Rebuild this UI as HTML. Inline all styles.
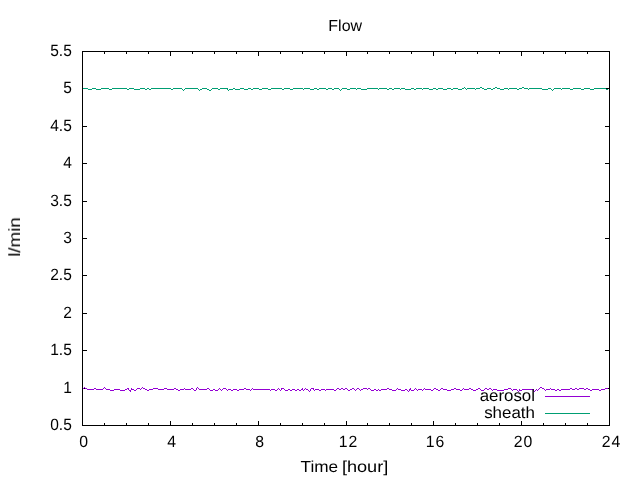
<!DOCTYPE html>
<html><head><meta charset="utf-8"><title>Flow</title>
<style>
html,body{margin:0;padding:0;background:#fff;}
body{width:640px;height:480px;overflow:hidden;}
svg{display:block;}
svg text{font-family:"Liberation Sans",sans-serif;font-size:15.5px;fill:#000;text-rendering:geometricPrecision;}
</style></head><body>
<svg width="640" height="480" viewBox="0 0 640 480">
<rect x="0" y="0" width="640" height="480" fill="#ffffff"/>
<g shape-rendering="crispEdges"><rect x="545" y="396" width="45" height="1" fill="#9400d3"/><rect x="545" y="413" width="45" height="1" fill="#009e73"/><rect x="82" y="51" width="528" height="1" fill="#000"/><rect x="82" y="425" width="528" height="1" fill="#000"/><rect x="82" y="51" width="1" height="375" fill="#000"/><rect x="609" y="51" width="1" height="375" fill="#000"/><rect x="82" y="421" width="1" height="4" fill="#000"/><rect x="82" y="52" width="1" height="4" fill="#000"/><rect x="104" y="423" width="1" height="2" fill="#000"/><rect x="104" y="52" width="1" height="2" fill="#000"/><rect x="126" y="423" width="1" height="2" fill="#000"/><rect x="126" y="52" width="1" height="2" fill="#000"/><rect x="148" y="423" width="1" height="2" fill="#000"/><rect x="148" y="52" width="1" height="2" fill="#000"/><rect x="170" y="421" width="1" height="4" fill="#000"/><rect x="170" y="52" width="1" height="4" fill="#000"/><rect x="192" y="423" width="1" height="2" fill="#000"/><rect x="192" y="52" width="1" height="2" fill="#000"/><rect x="214" y="423" width="1" height="2" fill="#000"/><rect x="214" y="52" width="1" height="2" fill="#000"/><rect x="236" y="423" width="1" height="2" fill="#000"/><rect x="236" y="52" width="1" height="2" fill="#000"/><rect x="258" y="421" width="1" height="4" fill="#000"/><rect x="258" y="52" width="1" height="4" fill="#000"/><rect x="280" y="423" width="1" height="2" fill="#000"/><rect x="280" y="52" width="1" height="2" fill="#000"/><rect x="302" y="423" width="1" height="2" fill="#000"/><rect x="302" y="52" width="1" height="2" fill="#000"/><rect x="324" y="423" width="1" height="2" fill="#000"/><rect x="324" y="52" width="1" height="2" fill="#000"/><rect x="346" y="421" width="1" height="4" fill="#000"/><rect x="346" y="52" width="1" height="4" fill="#000"/><rect x="367" y="423" width="1" height="2" fill="#000"/><rect x="367" y="52" width="1" height="2" fill="#000"/><rect x="389" y="423" width="1" height="2" fill="#000"/><rect x="389" y="52" width="1" height="2" fill="#000"/><rect x="411" y="423" width="1" height="2" fill="#000"/><rect x="411" y="52" width="1" height="2" fill="#000"/><rect x="433" y="421" width="1" height="4" fill="#000"/><rect x="433" y="52" width="1" height="4" fill="#000"/><rect x="455" y="423" width="1" height="2" fill="#000"/><rect x="455" y="52" width="1" height="2" fill="#000"/><rect x="477" y="423" width="1" height="2" fill="#000"/><rect x="477" y="52" width="1" height="2" fill="#000"/><rect x="499" y="423" width="1" height="2" fill="#000"/><rect x="499" y="52" width="1" height="2" fill="#000"/><rect x="521" y="421" width="1" height="4" fill="#000"/><rect x="521" y="52" width="1" height="4" fill="#000"/><rect x="543" y="423" width="1" height="2" fill="#000"/><rect x="543" y="52" width="1" height="2" fill="#000"/><rect x="565" y="423" width="1" height="2" fill="#000"/><rect x="565" y="52" width="1" height="2" fill="#000"/><rect x="587" y="423" width="1" height="2" fill="#000"/><rect x="587" y="52" width="1" height="2" fill="#000"/><rect x="609" y="421" width="1" height="4" fill="#000"/><rect x="609" y="52" width="1" height="4" fill="#000"/><rect x="83" y="425" width="4" height="1" fill="#000"/><rect x="605" y="425" width="4" height="1" fill="#000"/><rect x="83" y="388" width="4" height="1" fill="#000"/><rect x="605" y="388" width="4" height="1" fill="#000"/><rect x="83" y="350" width="4" height="1" fill="#000"/><rect x="605" y="350" width="4" height="1" fill="#000"/><rect x="83" y="313" width="4" height="1" fill="#000"/><rect x="605" y="313" width="4" height="1" fill="#000"/><rect x="83" y="275" width="4" height="1" fill="#000"/><rect x="605" y="275" width="4" height="1" fill="#000"/><rect x="83" y="238" width="4" height="1" fill="#000"/><rect x="605" y="238" width="4" height="1" fill="#000"/><rect x="83" y="201" width="4" height="1" fill="#000"/><rect x="605" y="201" width="4" height="1" fill="#000"/><rect x="83" y="163" width="4" height="1" fill="#000"/><rect x="605" y="163" width="4" height="1" fill="#000"/><rect x="83" y="126" width="4" height="1" fill="#000"/><rect x="605" y="126" width="4" height="1" fill="#000"/><rect x="83" y="88" width="4" height="1" fill="#000"/><rect x="605" y="88" width="4" height="1" fill="#000"/><rect x="83" y="51" width="4" height="1" fill="#000"/><rect x="605" y="51" width="4" height="1" fill="#000"/><rect x="83" y="388" width="1" height="1" fill="#9400d3"/><rect x="84" y="387" width="1" height="1" fill="#9400d3"/><rect x="85" y="388" width="2" height="1" fill="#9400d3"/><rect x="87" y="389" width="7" height="1" fill="#9400d3"/><rect x="94" y="388" width="2" height="1" fill="#9400d3"/><rect x="96" y="389" width="7" height="1" fill="#9400d3"/><rect x="103" y="388" width="1" height="1" fill="#9400d3"/><rect x="104" y="387" width="1" height="1" fill="#9400d3"/><rect x="105" y="388" width="1" height="1" fill="#9400d3"/><rect x="106" y="389" width="4" height="1" fill="#9400d3"/><rect x="110" y="390" width="4" height="1" fill="#9400d3"/><rect x="114" y="389" width="6" height="1" fill="#9400d3"/><rect x="120" y="390" width="5" height="1" fill="#9400d3"/><rect x="125" y="389" width="2" height="1" fill="#9400d3"/><rect x="127" y="388" width="2" height="1" fill="#9400d3"/><rect x="129" y="390" width="1" height="1" fill="#9400d3"/><rect x="130" y="391" width="1" height="1" fill="#9400d3"/><rect x="131" y="388" width="1" height="1" fill="#9400d3"/><rect x="132" y="389" width="2" height="1" fill="#9400d3"/><rect x="134" y="390" width="2" height="1" fill="#9400d3"/><rect x="136" y="389" width="1" height="1" fill="#9400d3"/><rect x="137" y="388" width="3" height="1" fill="#9400d3"/><rect x="140" y="389" width="1" height="1" fill="#9400d3"/><rect x="141" y="388" width="1" height="1" fill="#9400d3"/><rect x="142" y="387" width="1" height="1" fill="#9400d3"/><rect x="143" y="388" width="2" height="1" fill="#9400d3"/><rect x="145" y="389" width="2" height="1" fill="#9400d3"/><rect x="147" y="390" width="2" height="1" fill="#9400d3"/><rect x="149" y="389" width="4" height="1" fill="#9400d3"/><rect x="153" y="388" width="5" height="1" fill="#9400d3"/><rect x="158" y="389" width="6" height="1" fill="#9400d3"/><rect x="164" y="388" width="3" height="1" fill="#9400d3"/><rect x="167" y="389" width="7" height="1" fill="#9400d3"/><rect x="174" y="388" width="2" height="1" fill="#9400d3"/><rect x="176" y="389" width="2" height="1" fill="#9400d3"/><rect x="178" y="390" width="2" height="1" fill="#9400d3"/><rect x="180" y="389" width="4" height="1" fill="#9400d3"/><rect x="184" y="388" width="1" height="1" fill="#9400d3"/><rect x="185" y="389" width="6" height="1" fill="#9400d3"/><rect x="191" y="388" width="2" height="1" fill="#9400d3"/><rect x="193" y="389" width="1" height="1" fill="#9400d3"/><rect x="194" y="390" width="2" height="1" fill="#9400d3"/><rect x="196" y="388" width="1" height="1" fill="#9400d3"/><rect x="197" y="387" width="1" height="1" fill="#9400d3"/><rect x="198" y="388" width="1" height="1" fill="#9400d3"/><rect x="199" y="389" width="8" height="1" fill="#9400d3"/><rect x="207" y="388" width="2" height="1" fill="#9400d3"/><rect x="209" y="389" width="1" height="1" fill="#9400d3"/><rect x="210" y="390" width="3" height="1" fill="#9400d3"/><rect x="213" y="389" width="2" height="1" fill="#9400d3"/><rect x="215" y="390" width="3" height="1" fill="#9400d3"/><rect x="218" y="389" width="1" height="1" fill="#9400d3"/><rect x="219" y="388" width="1" height="1" fill="#9400d3"/><rect x="220" y="389" width="1" height="1" fill="#9400d3"/><rect x="221" y="390" width="1" height="1" fill="#9400d3"/><rect x="222" y="389" width="1" height="1" fill="#9400d3"/><rect x="223" y="388" width="3" height="1" fill="#9400d3"/><rect x="226" y="389" width="1" height="1" fill="#9400d3"/><rect x="227" y="390" width="1" height="1" fill="#9400d3"/><rect x="228" y="389" width="3" height="1" fill="#9400d3"/><rect x="231" y="390" width="2" height="1" fill="#9400d3"/><rect x="233" y="389" width="4" height="1" fill="#9400d3"/><rect x="237" y="390" width="2" height="1" fill="#9400d3"/><rect x="239" y="389" width="5" height="1" fill="#9400d3"/><rect x="244" y="388" width="2" height="1" fill="#9400d3"/><rect x="246" y="389" width="4" height="1" fill="#9400d3"/><rect x="250" y="390" width="1" height="1" fill="#9400d3"/><rect x="251" y="389" width="1" height="1" fill="#9400d3"/><rect x="252" y="388" width="1" height="1" fill="#9400d3"/><rect x="253" y="389" width="17" height="1" fill="#9400d3"/><rect x="270" y="390" width="1" height="1" fill="#9400d3"/><rect x="271" y="389" width="4" height="1" fill="#9400d3"/><rect x="275" y="390" width="2" height="1" fill="#9400d3"/><rect x="277" y="389" width="1" height="1" fill="#9400d3"/><rect x="278" y="388" width="1" height="1" fill="#9400d3"/><rect x="279" y="389" width="1" height="1" fill="#9400d3"/><rect x="280" y="390" width="1" height="1" fill="#9400d3"/><rect x="281" y="388" width="3" height="1" fill="#9400d3"/><rect x="284" y="389" width="1" height="1" fill="#9400d3"/><rect x="285" y="390" width="3" height="1" fill="#9400d3"/><rect x="288" y="389" width="2" height="1" fill="#9400d3"/><rect x="290" y="390" width="2" height="1" fill="#9400d3"/><rect x="292" y="389" width="3" height="1" fill="#9400d3"/><rect x="295" y="390" width="2" height="1" fill="#9400d3"/><rect x="297" y="389" width="2" height="1" fill="#9400d3"/><rect x="299" y="390" width="2" height="1" fill="#9400d3"/><rect x="301" y="389" width="1" height="1" fill="#9400d3"/><rect x="302" y="388" width="1" height="1" fill="#9400d3"/><rect x="303" y="390" width="1" height="1" fill="#9400d3"/><rect x="304" y="389" width="1" height="1" fill="#9400d3"/><rect x="305" y="388" width="1" height="1" fill="#9400d3"/><rect x="306" y="389" width="2" height="1" fill="#9400d3"/><rect x="308" y="390" width="1" height="1" fill="#9400d3"/><rect x="309" y="391" width="1" height="1" fill="#9400d3"/><rect x="310" y="389" width="1" height="1" fill="#9400d3"/><rect x="311" y="388" width="3" height="1" fill="#9400d3"/><rect x="314" y="390" width="1" height="1" fill="#9400d3"/><rect x="315" y="389" width="4" height="1" fill="#9400d3"/><rect x="319" y="390" width="2" height="1" fill="#9400d3"/><rect x="321" y="389" width="4" height="1" fill="#9400d3"/><rect x="325" y="390" width="1" height="1" fill="#9400d3"/><rect x="326" y="389" width="8" height="1" fill="#9400d3"/><rect x="334" y="390" width="2" height="1" fill="#9400d3"/><rect x="336" y="389" width="1" height="1" fill="#9400d3"/><rect x="337" y="388" width="2" height="1" fill="#9400d3"/><rect x="339" y="389" width="2" height="1" fill="#9400d3"/><rect x="341" y="388" width="2" height="1" fill="#9400d3"/><rect x="343" y="389" width="2" height="1" fill="#9400d3"/><rect x="345" y="388" width="2" height="1" fill="#9400d3"/><rect x="347" y="389" width="1" height="1" fill="#9400d3"/><rect x="348" y="390" width="2" height="1" fill="#9400d3"/><rect x="350" y="389" width="2" height="1" fill="#9400d3"/><rect x="352" y="388" width="2" height="1" fill="#9400d3"/><rect x="354" y="389" width="1" height="1" fill="#9400d3"/><rect x="355" y="390" width="1" height="1" fill="#9400d3"/><rect x="356" y="389" width="1" height="1" fill="#9400d3"/><rect x="357" y="388" width="2" height="1" fill="#9400d3"/><rect x="359" y="389" width="1" height="1" fill="#9400d3"/><rect x="360" y="390" width="1" height="1" fill="#9400d3"/><rect x="361" y="389" width="2" height="1" fill="#9400d3"/><rect x="363" y="388" width="4" height="1" fill="#9400d3"/><rect x="367" y="389" width="1" height="1" fill="#9400d3"/><rect x="368" y="388" width="2" height="1" fill="#9400d3"/><rect x="370" y="389" width="1" height="1" fill="#9400d3"/><rect x="371" y="390" width="3" height="1" fill="#9400d3"/><rect x="374" y="389" width="2" height="1" fill="#9400d3"/><rect x="376" y="390" width="2" height="1" fill="#9400d3"/><rect x="378" y="389" width="1" height="1" fill="#9400d3"/><rect x="379" y="390" width="2" height="1" fill="#9400d3"/><rect x="381" y="389" width="6" height="1" fill="#9400d3"/><rect x="387" y="388" width="2" height="1" fill="#9400d3"/><rect x="389" y="389" width="3" height="1" fill="#9400d3"/><rect x="392" y="390" width="4" height="1" fill="#9400d3"/><rect x="396" y="389" width="1" height="1" fill="#9400d3"/><rect x="397" y="388" width="1" height="1" fill="#9400d3"/><rect x="398" y="389" width="3" height="1" fill="#9400d3"/><rect x="401" y="390" width="4" height="1" fill="#9400d3"/><rect x="405" y="389" width="2" height="1" fill="#9400d3"/><rect x="407" y="390" width="1" height="1" fill="#9400d3"/><rect x="408" y="391" width="1" height="1" fill="#9400d3"/><rect x="409" y="389" width="1" height="1" fill="#9400d3"/><rect x="410" y="388" width="1" height="1" fill="#9400d3"/><rect x="411" y="390" width="3" height="1" fill="#9400d3"/><rect x="414" y="389" width="1" height="1" fill="#9400d3"/><rect x="415" y="388" width="1" height="1" fill="#9400d3"/><rect x="416" y="389" width="1" height="1" fill="#9400d3"/><rect x="417" y="390" width="1" height="1" fill="#9400d3"/><rect x="418" y="389" width="4" height="1" fill="#9400d3"/><rect x="422" y="390" width="1" height="1" fill="#9400d3"/><rect x="423" y="389" width="1" height="1" fill="#9400d3"/><rect x="424" y="388" width="1" height="1" fill="#9400d3"/><rect x="425" y="389" width="6" height="1" fill="#9400d3"/><rect x="431" y="390" width="2" height="1" fill="#9400d3"/><rect x="433" y="389" width="1" height="1" fill="#9400d3"/><rect x="434" y="388" width="2" height="1" fill="#9400d3"/><rect x="436" y="389" width="2" height="1" fill="#9400d3"/><rect x="438" y="390" width="2" height="1" fill="#9400d3"/><rect x="440" y="389" width="1" height="1" fill="#9400d3"/><rect x="441" y="388" width="2" height="1" fill="#9400d3"/><rect x="443" y="389" width="4" height="1" fill="#9400d3"/><rect x="447" y="390" width="4" height="1" fill="#9400d3"/><rect x="451" y="389" width="3" height="1" fill="#9400d3"/><rect x="454" y="388" width="2" height="1" fill="#9400d3"/><rect x="456" y="389" width="4" height="1" fill="#9400d3"/><rect x="460" y="390" width="2" height="1" fill="#9400d3"/><rect x="462" y="389" width="1" height="1" fill="#9400d3"/><rect x="463" y="388" width="1" height="1" fill="#9400d3"/><rect x="464" y="389" width="5" height="1" fill="#9400d3"/><rect x="469" y="388" width="2" height="1" fill="#9400d3"/><rect x="471" y="389" width="2" height="1" fill="#9400d3"/><rect x="473" y="390" width="3" height="1" fill="#9400d3"/><rect x="476" y="389" width="2" height="1" fill="#9400d3"/><rect x="478" y="388" width="2" height="1" fill="#9400d3"/><rect x="480" y="389" width="1" height="1" fill="#9400d3"/><rect x="481" y="390" width="3" height="1" fill="#9400d3"/><rect x="484" y="389" width="1" height="1" fill="#9400d3"/><rect x="485" y="388" width="2" height="1" fill="#9400d3"/><rect x="487" y="389" width="2" height="1" fill="#9400d3"/><rect x="489" y="388" width="2" height="1" fill="#9400d3"/><rect x="491" y="389" width="1" height="1" fill="#9400d3"/><rect x="492" y="390" width="1" height="1" fill="#9400d3"/><rect x="493" y="389" width="4" height="1" fill="#9400d3"/><rect x="497" y="390" width="7" height="1" fill="#9400d3"/><rect x="504" y="389" width="4" height="1" fill="#9400d3"/><rect x="508" y="388" width="3" height="1" fill="#9400d3"/><rect x="511" y="389" width="1" height="1" fill="#9400d3"/><rect x="512" y="390" width="1" height="1" fill="#9400d3"/><rect x="513" y="389" width="4" height="1" fill="#9400d3"/><rect x="517" y="390" width="1" height="1" fill="#9400d3"/><rect x="518" y="391" width="1" height="1" fill="#9400d3"/><rect x="519" y="389" width="1" height="1" fill="#9400d3"/><rect x="520" y="390" width="2" height="1" fill="#9400d3"/><rect x="522" y="389" width="12" height="1" fill="#9400d3"/><rect x="534" y="391" width="1" height="1" fill="#9400d3"/><rect x="535" y="390" width="1" height="1" fill="#9400d3"/><rect x="536" y="389" width="1" height="1" fill="#9400d3"/><rect x="537" y="390" width="1" height="1" fill="#9400d3"/><rect x="538" y="389" width="1" height="1" fill="#9400d3"/><rect x="539" y="388" width="1" height="1" fill="#9400d3"/><rect x="540" y="387" width="2" height="1" fill="#9400d3"/><rect x="542" y="388" width="2" height="1" fill="#9400d3"/><rect x="544" y="389" width="1" height="1" fill="#9400d3"/><rect x="545" y="390" width="1" height="1" fill="#9400d3"/><rect x="546" y="389" width="4" height="1" fill="#9400d3"/><rect x="550" y="388" width="1" height="1" fill="#9400d3"/><rect x="551" y="389" width="4" height="1" fill="#9400d3"/><rect x="555" y="390" width="2" height="1" fill="#9400d3"/><rect x="557" y="389" width="2" height="1" fill="#9400d3"/><rect x="559" y="390" width="2" height="1" fill="#9400d3"/><rect x="561" y="389" width="9" height="1" fill="#9400d3"/><rect x="570" y="388" width="2" height="1" fill="#9400d3"/><rect x="572" y="389" width="3" height="1" fill="#9400d3"/><rect x="575" y="388" width="2" height="1" fill="#9400d3"/><rect x="577" y="389" width="2" height="1" fill="#9400d3"/><rect x="579" y="388" width="5" height="1" fill="#9400d3"/><rect x="584" y="389" width="2" height="1" fill="#9400d3"/><rect x="586" y="388" width="2" height="1" fill="#9400d3"/><rect x="588" y="389" width="2" height="1" fill="#9400d3"/><rect x="590" y="390" width="2" height="1" fill="#9400d3"/><rect x="592" y="389" width="7" height="1" fill="#9400d3"/><rect x="599" y="390" width="2" height="1" fill="#9400d3"/><rect x="601" y="389" width="4" height="1" fill="#9400d3"/><rect x="605" y="388" width="3" height="1" fill="#9400d3"/><rect x="128" y="388" width="1" height="2" fill="#9400d3"/><rect x="129" y="390" width="1" height="1" fill="#9400d3"/><rect x="130" y="390" width="1" height="2" fill="#9400d3"/><rect x="131" y="388" width="1" height="2" fill="#9400d3"/><rect x="195" y="390" width="1" height="1" fill="#9400d3"/><rect x="196" y="388" width="1" height="2" fill="#9400d3"/><rect x="280" y="390" width="1" height="1" fill="#9400d3"/><rect x="281" y="388" width="1" height="2" fill="#9400d3"/><rect x="302" y="388" width="1" height="2" fill="#9400d3"/><rect x="303" y="390" width="1" height="1" fill="#9400d3"/><rect x="309" y="391" width="1" height="1" fill="#9400d3"/><rect x="310" y="389" width="1" height="2" fill="#9400d3"/><rect x="313" y="388" width="1" height="2" fill="#9400d3"/><rect x="314" y="390" width="1" height="1" fill="#9400d3"/><rect x="408" y="391" width="1" height="1" fill="#9400d3"/><rect x="409" y="389" width="1" height="2" fill="#9400d3"/><rect x="410" y="388" width="1" height="2" fill="#9400d3"/><rect x="411" y="390" width="1" height="1" fill="#9400d3"/><rect x="518" y="391" width="1" height="1" fill="#9400d3"/><rect x="519" y="389" width="1" height="2" fill="#9400d3"/><rect x="533" y="389" width="1" height="2" fill="#9400d3"/><rect x="534" y="391" width="1" height="1" fill="#9400d3"/><rect x="83" y="88" width="5" height="1" fill="#009e73"/><rect x="88" y="89" width="4" height="1" fill="#009e73"/><rect x="92" y="88" width="4" height="1" fill="#009e73"/><rect x="96" y="89" width="5" height="1" fill="#009e73"/><rect x="101" y="88" width="8" height="1" fill="#009e73"/><rect x="109" y="89" width="3" height="1" fill="#009e73"/><rect x="112" y="88" width="15" height="1" fill="#009e73"/><rect x="127" y="89" width="2" height="1" fill="#009e73"/><rect x="129" y="88" width="5" height="1" fill="#009e73"/><rect x="134" y="89" width="6" height="1" fill="#009e73"/><rect x="140" y="88" width="5" height="1" fill="#009e73"/><rect x="145" y="89" width="2" height="1" fill="#009e73"/><rect x="147" y="88" width="2" height="1" fill="#009e73"/><rect x="149" y="89" width="2" height="1" fill="#009e73"/><rect x="151" y="88" width="20" height="1" fill="#009e73"/><rect x="171" y="89" width="2" height="1" fill="#009e73"/><rect x="173" y="88" width="9" height="1" fill="#009e73"/><rect x="182" y="89" width="1" height="1" fill="#009e73"/><rect x="183" y="90" width="1" height="1" fill="#009e73"/><rect x="184" y="89" width="1" height="1" fill="#009e73"/><rect x="185" y="88" width="13" height="1" fill="#009e73"/><rect x="198" y="89" width="1" height="1" fill="#009e73"/><rect x="199" y="90" width="1" height="1" fill="#009e73"/><rect x="200" y="89" width="2" height="1" fill="#009e73"/><rect x="202" y="88" width="5" height="1" fill="#009e73"/><rect x="207" y="89" width="2" height="1" fill="#009e73"/><rect x="209" y="90" width="2" height="1" fill="#009e73"/><rect x="211" y="89" width="1" height="1" fill="#009e73"/><rect x="212" y="88" width="6" height="1" fill="#009e73"/><rect x="218" y="89" width="2" height="1" fill="#009e73"/><rect x="220" y="88" width="8" height="1" fill="#009e73"/><rect x="228" y="90" width="1" height="1" fill="#009e73"/><rect x="229" y="89" width="4" height="1" fill="#009e73"/><rect x="233" y="88" width="2" height="1" fill="#009e73"/><rect x="235" y="89" width="5" height="1" fill="#009e73"/><rect x="240" y="88" width="4" height="1" fill="#009e73"/><rect x="244" y="89" width="4" height="1" fill="#009e73"/><rect x="248" y="88" width="3" height="1" fill="#009e73"/><rect x="251" y="89" width="2" height="1" fill="#009e73"/><rect x="253" y="88" width="6" height="1" fill="#009e73"/><rect x="259" y="89" width="3" height="1" fill="#009e73"/><rect x="262" y="88" width="6" height="1" fill="#009e73"/><rect x="268" y="89" width="3" height="1" fill="#009e73"/><rect x="271" y="88" width="11" height="1" fill="#009e73"/><rect x="282" y="89" width="2" height="1" fill="#009e73"/><rect x="284" y="88" width="6" height="1" fill="#009e73"/><rect x="290" y="89" width="3" height="1" fill="#009e73"/><rect x="293" y="88" width="10" height="1" fill="#009e73"/><rect x="303" y="89" width="1" height="1" fill="#009e73"/><rect x="304" y="88" width="6" height="1" fill="#009e73"/><rect x="310" y="89" width="4" height="1" fill="#009e73"/><rect x="314" y="88" width="3" height="1" fill="#009e73"/><rect x="317" y="89" width="2" height="1" fill="#009e73"/><rect x="319" y="88" width="7" height="1" fill="#009e73"/><rect x="326" y="89" width="2" height="1" fill="#009e73"/><rect x="328" y="88" width="4" height="1" fill="#009e73"/><rect x="332" y="89" width="2" height="1" fill="#009e73"/><rect x="334" y="88" width="5" height="1" fill="#009e73"/><rect x="339" y="89" width="1" height="1" fill="#009e73"/><rect x="340" y="90" width="1" height="1" fill="#009e73"/><rect x="341" y="89" width="1" height="1" fill="#009e73"/><rect x="342" y="88" width="5" height="1" fill="#009e73"/><rect x="347" y="89" width="3" height="1" fill="#009e73"/><rect x="350" y="88" width="6" height="1" fill="#009e73"/><rect x="356" y="89" width="1" height="1" fill="#009e73"/><rect x="357" y="88" width="4" height="1" fill="#009e73"/><rect x="361" y="89" width="6" height="1" fill="#009e73"/><rect x="367" y="88" width="11" height="1" fill="#009e73"/><rect x="378" y="89" width="1" height="1" fill="#009e73"/><rect x="379" y="88" width="8" height="1" fill="#009e73"/><rect x="387" y="89" width="2" height="1" fill="#009e73"/><rect x="389" y="88" width="3" height="1" fill="#009e73"/><rect x="392" y="89" width="2" height="1" fill="#009e73"/><rect x="394" y="88" width="6" height="1" fill="#009e73"/><rect x="400" y="89" width="1" height="1" fill="#009e73"/><rect x="401" y="88" width="4" height="1" fill="#009e73"/><rect x="405" y="89" width="6" height="1" fill="#009e73"/><rect x="411" y="88" width="3" height="1" fill="#009e73"/><rect x="414" y="89" width="2" height="1" fill="#009e73"/><rect x="416" y="88" width="6" height="1" fill="#009e73"/><rect x="422" y="89" width="1" height="1" fill="#009e73"/><rect x="423" y="88" width="6" height="1" fill="#009e73"/><rect x="429" y="89" width="4" height="1" fill="#009e73"/><rect x="433" y="88" width="3" height="1" fill="#009e73"/><rect x="436" y="89" width="2" height="1" fill="#009e73"/><rect x="438" y="88" width="5" height="1" fill="#009e73"/><rect x="443" y="89" width="4" height="1" fill="#009e73"/><rect x="447" y="88" width="4" height="1" fill="#009e73"/><rect x="451" y="89" width="2" height="1" fill="#009e73"/><rect x="453" y="88" width="5" height="1" fill="#009e73"/><rect x="458" y="89" width="4" height="1" fill="#009e73"/><rect x="462" y="88" width="2" height="1" fill="#009e73"/><rect x="464" y="87" width="1" height="1" fill="#009e73"/><rect x="465" y="88" width="1" height="1" fill="#009e73"/><rect x="466" y="89" width="1" height="1" fill="#009e73"/><rect x="467" y="88" width="8" height="1" fill="#009e73"/><rect x="475" y="89" width="1" height="1" fill="#009e73"/><rect x="476" y="88" width="4" height="1" fill="#009e73"/><rect x="480" y="87" width="2" height="1" fill="#009e73"/><rect x="482" y="88" width="2" height="1" fill="#009e73"/><rect x="484" y="89" width="3" height="1" fill="#009e73"/><rect x="487" y="88" width="4" height="1" fill="#009e73"/><rect x="491" y="89" width="2" height="1" fill="#009e73"/><rect x="493" y="88" width="2" height="1" fill="#009e73"/><rect x="495" y="87" width="2" height="1" fill="#009e73"/><rect x="497" y="88" width="3" height="1" fill="#009e73"/><rect x="500" y="89" width="4" height="1" fill="#009e73"/><rect x="504" y="88" width="4" height="1" fill="#009e73"/><rect x="508" y="89" width="1" height="1" fill="#009e73"/><rect x="509" y="88" width="8" height="1" fill="#009e73"/><rect x="517" y="89" width="2" height="1" fill="#009e73"/><rect x="519" y="88" width="3" height="1" fill="#009e73"/><rect x="522" y="87" width="2" height="1" fill="#009e73"/><rect x="524" y="88" width="4" height="1" fill="#009e73"/><rect x="528" y="89" width="1" height="1" fill="#009e73"/><rect x="529" y="88" width="13" height="1" fill="#009e73"/><rect x="542" y="89" width="6" height="1" fill="#009e73"/><rect x="548" y="88" width="3" height="1" fill="#009e73"/><rect x="551" y="89" width="1" height="1" fill="#009e73"/><rect x="552" y="90" width="1" height="1" fill="#009e73"/><rect x="553" y="89" width="1" height="1" fill="#009e73"/><rect x="554" y="88" width="7" height="1" fill="#009e73"/><rect x="561" y="89" width="1" height="1" fill="#009e73"/><rect x="562" y="88" width="8" height="1" fill="#009e73"/><rect x="570" y="89" width="3" height="1" fill="#009e73"/><rect x="573" y="88" width="8" height="1" fill="#009e73"/><rect x="581" y="89" width="3" height="1" fill="#009e73"/><rect x="584" y="88" width="6" height="1" fill="#009e73"/><rect x="590" y="89" width="4" height="1" fill="#009e73"/><rect x="594" y="88" width="12" height="1" fill="#009e73"/><rect x="606" y="89" width="2" height="1" fill="#009e73"/><rect x="227" y="88" width="1" height="2" fill="#009e73"/><rect x="228" y="90" width="1" height="1" fill="#009e73"/></g>
<g opacity="0.999"><text transform="translate(345.2,31) scale(0.998,1)" text-anchor="middle" style="font-size:16.0px;">Flow</text><text transform="translate(71.8,430) scale(0.953,1)" text-anchor="end" style="font-size:16.3px;">0.5</text><text transform="translate(71.8,393) scale(0.953,1)" text-anchor="end" style="font-size:16.3px;">1</text><text transform="translate(71.8,355) scale(0.953,1)" text-anchor="end" style="font-size:16.3px;">1.5</text><text transform="translate(71.8,318) scale(0.953,1)" text-anchor="end" style="font-size:16.3px;">2</text><text transform="translate(71.8,280) scale(0.953,1)" text-anchor="end" style="font-size:16.3px;">2.5</text><text transform="translate(71.8,243) scale(0.953,1)" text-anchor="end" style="font-size:16.3px;">3</text><text transform="translate(71.8,206) scale(0.953,1)" text-anchor="end" style="font-size:16.3px;">3.5</text><text transform="translate(71.8,168) scale(0.953,1)" text-anchor="end" style="font-size:16.3px;">4</text><text transform="translate(71.8,131) scale(0.953,1)" text-anchor="end" style="font-size:16.3px;">4.5</text><text transform="translate(71.8,93) scale(0.953,1)" text-anchor="end" style="font-size:16.3px;">5</text><text transform="translate(71.8,56) scale(0.953,1)" text-anchor="end" style="font-size:16.3px;">5.5</text><text transform="translate(83.6,447) scale(0.97,1)" text-anchor="middle" style="font-size:16.3px;">0</text><text transform="translate(171.6,447) scale(0.97,1)" text-anchor="middle" style="font-size:16.3px;">4</text><text transform="translate(259.6,447) scale(0.97,1)" text-anchor="middle" style="font-size:16.3px;">8</text><text transform="translate(348.4,447) scale(0.97,1)" text-anchor="middle" style="font-size:16.3px;letter-spacing:0.8px;">12</text><text transform="translate(435.4,447) scale(0.97,1)" text-anchor="middle" style="font-size:16.3px;letter-spacing:0.8px;">16</text><text transform="translate(523.4,447) scale(0.97,1)" text-anchor="middle" style="font-size:16.3px;letter-spacing:0.8px;">20</text><text transform="translate(611.4,447) scale(0.97,1)" text-anchor="middle" style="font-size:16.3px;letter-spacing:0.8px;">24</text><text transform="translate(300.6,472) scale(1.074,1)" text-anchor="start" style="font-size:16.0px;">Time</text><text transform="translate(388.3,472) scale(1.134,1)" text-anchor="end" style="font-size:16.0px;">[hour]</text><text transform="translate(20,237.0) rotate(-90) scale(1.15,1)" text-anchor="middle" style="font-size:16.3px">l/min</text><text transform="translate(535.0,401) scale(1.036,1)" text-anchor="end" style="font-size:16.3px;">aerosol</text><text transform="translate(535.0,418) scale(1.04,1)" text-anchor="end" style="font-size:16.3px;">sheath</text></g>
</svg>
</body></html>
